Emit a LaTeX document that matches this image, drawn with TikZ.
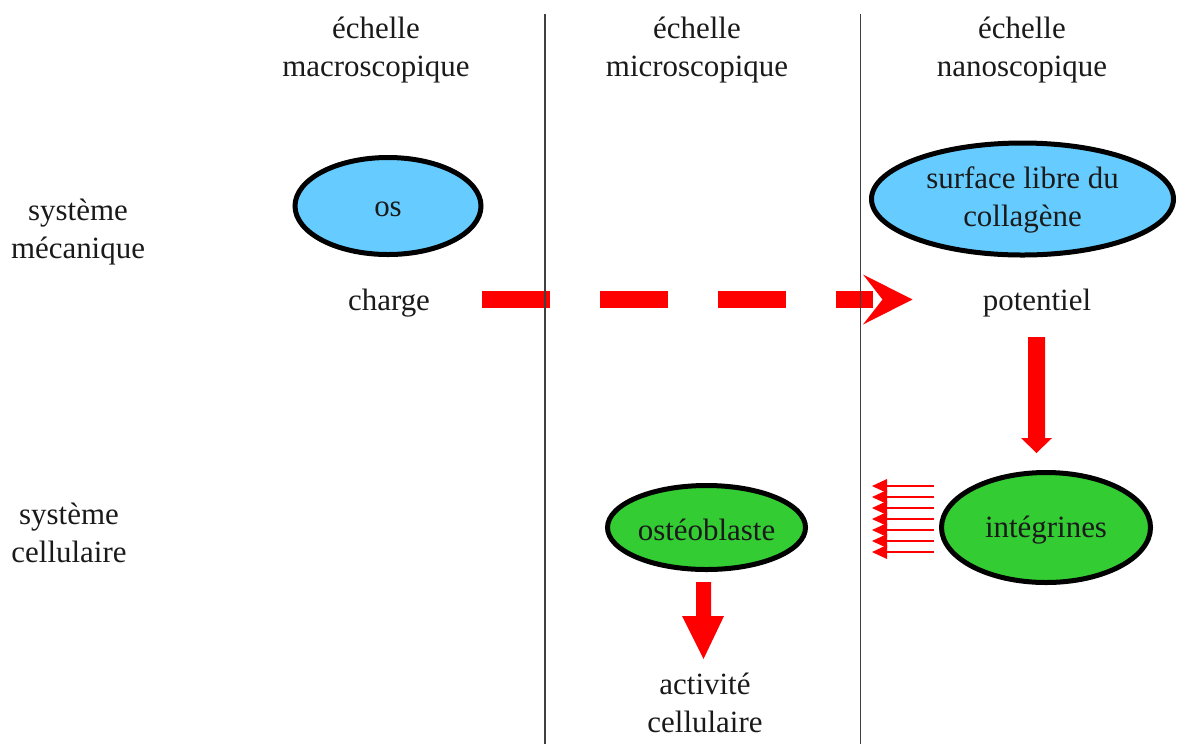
\documentclass[tikz,border=0pt]{standalone}
\usepackage{fontspec}
\setmainfont{Liberation Serif}
\usetikzlibrary{shapes.geometric}
\definecolor{txt}{HTML}{1A1A1A}
\definecolor{blu}{HTML}{66CCFF}
\definecolor{grn}{HTML}{33CC33}
\begin{document}
\begin{tikzpicture}[x=0.75pt,y=-0.75pt,
  lbl/.style={text=txt,font=\fontsize{23.2}{28.5}\selectfont,align=center,inner sep=0pt},
  blob/.style={ellipse,draw=black,line width=3.75pt,inner sep=0pt},
  sep/.style={draw=black!75,line width=1.1pt}]
\useasboundingbox (0,0) rectangle (1180,744);
% column headers
\node[lbl] (hmacro) at (376,50) {échelle\\macroscopique};
\node[lbl] (hmicro) at (697,50) {échelle\\microscopique};
\node[lbl] (hnano) at (1022,50) {échelle\\nanoscopique};
% row headers
\node[lbl] (rmeca) at (78,232) {système\\mécanique};
\node[lbl] (rcell) at (69,533) {système\\cellulaire};
% ellipses
\node[blob,fill=blu,minimum width=139.5pt,minimum height=72.75pt] (os) at (388,206) {};
\node[blob,fill=blu,minimum width=226.5pt,minimum height=84pt] (surf) at (1022.5,199) {};
\node[blob,fill=grn,minimum width=148.5pt,minimum height=63pt] (osteo) at (706.5,527.5) {};
\node[blob,fill=grn,minimum width=156.75pt,minimum height=82.5pt] (integ) at (1046,527.5) {};
\node[lbl] (os-t) at ([yshift=-2.25pt]os.center) {os};
\node[lbl] (surf-t) at ([yshift=-0.75pt]surf.center) {surface libre du\\collagène};
\node[lbl] (osteo-t) at ([yshift=-1.8pt]osteo.center) {ostéoblaste};
\node[lbl] (integ-t) at ([yshift=-2.25pt]integ.center) {intégrines};
% plain labels
\node[lbl] (charge) at (389,303) {charge};
\node[lbl] (pot) at (1037,303) {potentiel};
\node[lbl] (activ) at (705,703) {activité\\cellulaire};
% dashed arrow charge -> potentiel
\coordinate (d0) at (482,299.5);
\coordinate (d1) at (873,299.5);
\coordinate (dtip) at (912.5,299.5);
\draw[red,line width=12.75pt,dash pattern=on 51pt off 37.5pt] (d0) -- (d1);
\fill[red] (dtip) -- ++(-49.5,-25) -- ++(19.5,25) -- ++(-19.5,25) -- cycle;
% potentiel -> integrines block arrow
\coordinate (pa) at (1036.5,337);
\fill[red] (pa) ++(-8.5,0) -- ++(17,0) -- ++(0,101) -- ++(7,0) -- (1036.5,453) -- (1021,438) -- (1028,438) -- cycle;
% osteoblaste -> activite block arrow
\coordinate (oa) at (703.5,582);
\fill[red] (oa) ++(-7.5,0) -- ++(15,0) -- ++(0,34) -- ++(13,0) -- (703.5,659) -- (682,616) -- (696,616) -- cycle;
% small arrows from integrines
\foreach \yy in {486,497,508,519,530,541,552}{
  \draw[red,line width=0.9pt] (934,\yy) -- (886,\yy);
  \fill[red] (872,\yy) -- (887,\yy-7) -- (887,\yy+7) -- cycle;
}
% separators
\coordinate (s1t) at (545,14); \coordinate (s1b) at (545,744);
\coordinate (s2t) at (860.5,14); \coordinate (s2b) at (860.5,744);
\draw[sep] (s1t) -- (s1b);
\draw[sep] (s2t) -- (s2b);
\end{tikzpicture}
\end{document}
